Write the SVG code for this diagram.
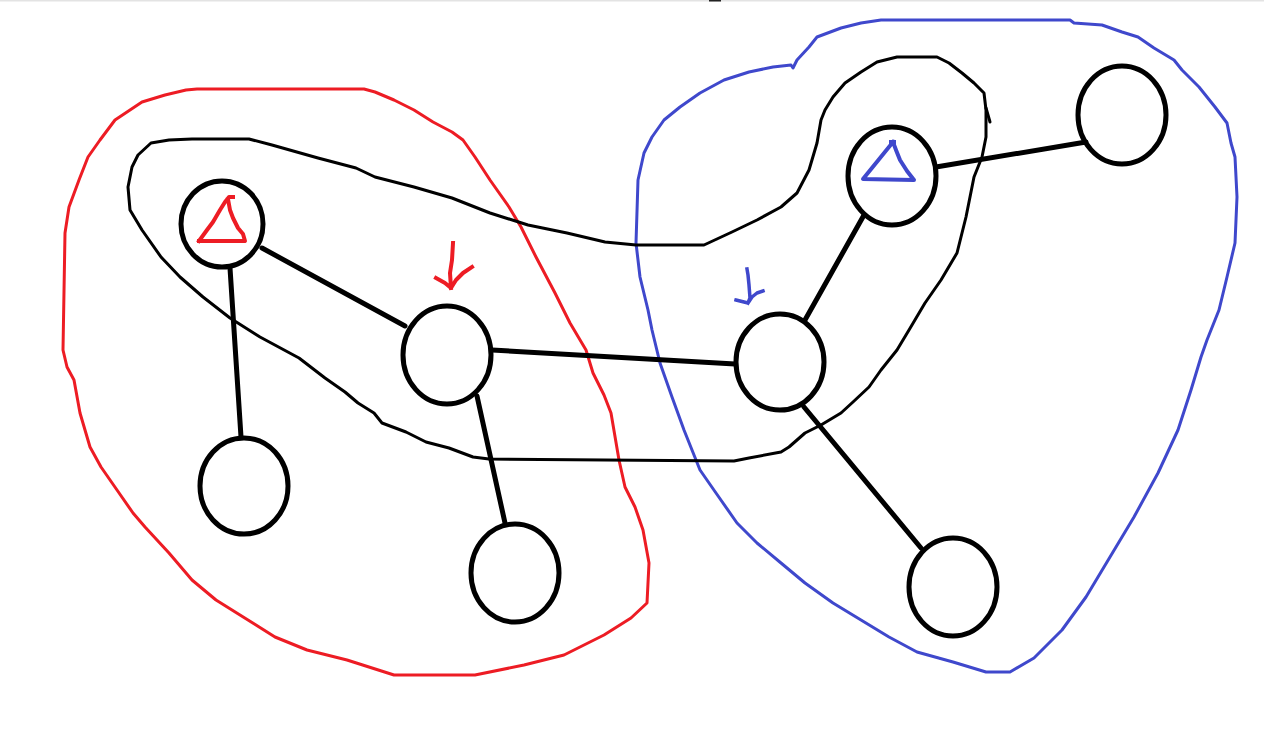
<svg xmlns="http://www.w3.org/2000/svg" width="1264" height="732" viewBox="0 0 1264 732">
<style>
.node{fill:none;stroke:#000;stroke-width:5}
.edge{stroke:#000;stroke-width:5;stroke-linecap:round;fill:none}
.region{fill:none;stroke-width:3;stroke-linejoin:round;stroke-linecap:round}
.red{stroke:#ed1c24}
.blue{stroke:#3f48cc}
.blk{stroke:#000}
.mark{fill:none;stroke-width:4;stroke-linejoin:round;stroke-linecap:square}
</style>
<rect x="0" y="0" width="1264" height="732" fill="#fff"/>
<rect x="0" y="0" width="1264" height="1.5" fill="#e3e3e3"/>
<rect x="709" y="0" width="12" height="1.5" fill="#222"/>
<g id="regions">
<polygon id="red-region" class="region red" points="197,89 364,89 375,92 394,100 414,110 433,122 452,132 463,140 475,157 490,180 509,207 521,227 536,257 555,293 570,323 586,350 593,373 604,395 611,413 619,460 625,487 635,507 643,530 649,563 647,603 631,618 604,635 564,655 524,665 475,675 394,675 347,660 307,650 275,637 248,620 216,600 192,580 169,553 145,527 133,513 117,490 101,467 90,447 80,413 74,380 67,367 63,350 65,233 69,207 79,180 88,157 100,140 115,120 142,102 165,95 186,90"/>
<polygon id="blue-region" class="region blue" points="881,20 1070,20 1074,23 1102,25 1122,32 1138,37 1154,48 1174,60 1182,70 1199,87 1215,107 1227,123 1231,143 1235,157 1237,197 1235,243 1227,277 1219,310 1207,340 1201,357 1191,390 1178,430 1158,473 1134,517 1110,557 1086,597 1062,630 1034,658 1010,672 986,672 953,662 917,652 889,637 861,620 833,603 805,583 781,563 757,543 737,523 716,493 700,470 684,430 672,397 660,363 652,330 648,310 640,277 636,243 638,180 644,153 652,137 664,120 680,107 700,93 724,80 749,72 773,67 791,65 793,68 797,60 809,47 817,37 841,28 861,23"/>
<polygon id="black-region" class="region blk" points="151,143 169,140 192,139 249,139 272,145 318,158 356,168 375,177 414,187 452,198 490,213 528,225 567,233 605,242 636,245 704,245 732,232 757,220 781,207 797,193 809,170 817,143 821,120 825,110 833,97 845,83 861,72 877,62 897,57 937,57 949,63 962,73 974,83 984,93 986,110 986,137 982,157 974,177 966,217 957,253 941,280 925,303 909,330 897,350 881,370 869,387 853,402 841,413 821,425 805,433 789,447 781,452 749,458 734,461 489,459 473,457 449,448 426,442 406,432 382,423 374,413 358,403 345,392 325,378 299,358 260,337 230,318 203,297 180,277 161,257 142,230 130,210 128,187 132,167 138,155"/>
<line class="region blk" x1="986" y1="108" x2="990" y2="122"/>
</g>
<g id="connectors">
<line class="edge" x1="262" y1="248" x2="405" y2="326"/>
<line class="edge" x1="230" y1="268" x2="241" y2="437"/>
<line class="edge" x1="492" y1="350" x2="735" y2="364"/>
<line class="edge" x1="477" y1="396" x2="505" y2="523"/>
<line class="edge" x1="805" y1="320" x2="864" y2="215"/>
<line class="edge" x1="936" y1="167" x2="1086" y2="142"/>
<line class="edge" x1="804" y1="407" x2="921" y2="548"/>
</g>
<g id="nodeA">
<ellipse class="node" cx="222" cy="224" rx="41" ry="43"/>
<path class="mark red" d="M199,241 L207,230 L213,222 L220,210 L225,202 L229,197 L233,197 M228,199 L230,210 L233,218 L238,228 L243,234 L245,241 L199,241"/>
</g>
<g id="nodeB"><ellipse class="node" cx="447" cy="355" rx="44" ry="49"/></g>
<g id="nodeC"><ellipse class="node" cx="244" cy="486" rx="44" ry="48"/></g>
<g id="nodeD"><ellipse class="node" cx="515" cy="573" rx="44" ry="49"/></g>
<g id="nodeE"><ellipse class="node" cx="780" cy="362" rx="44" ry="48"/></g>
<g id="nodeF">
<ellipse class="node" cx="892" cy="176" rx="44" ry="49"/>
<path class="mark blue" d="M891,142 L894,142 M893,142 L863,179 L914,180 L907,171 L900,160 L896,150 L893,142"/>
</g>
<g id="nodeG"><ellipse class="node" cx="1122" cy="115" rx="44" ry="49"/></g>
<g id="nodeH"><ellipse class="node" cx="953" cy="587" rx="44" ry="49"/></g>
<g id="marks">
<path class="mark red" d="M453,243 L452,260 L450,273 L451,288 M436,278 L445,283 L451,288 L456,280 L463,273 L472,267"/>
<path class="mark blue" style="stroke-width:3.5" d="M747,269 L748,275 L749,285 L750,298 L748,303 L736,300 M748,303 L752,297 L757,293 L763,291"/>
</g>
</svg>
